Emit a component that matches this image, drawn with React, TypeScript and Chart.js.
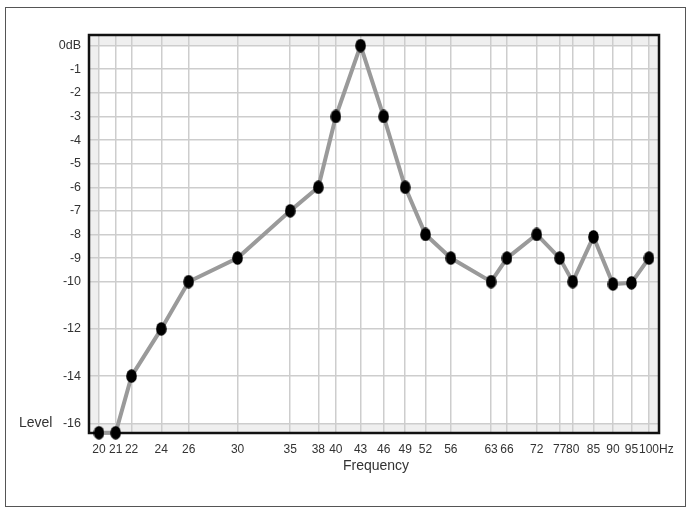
import React, { useEffect, useRef } from "react";
import { Chart, registerables } from "chart.js";

Chart.register(...registerables);

const frequencies = [20, 21, 22, 24, 26, 30, 35, 38, 40, 43, 46, 49, 52, 56, 63, 66, 72, 77, 80, 85, 90, 95, 100];
const levels = [-16.4, -16.4, -14, -12, -10, -9, -7, -6, -3, 0, -3, -6, -8, -9, -10, -9, -8, -9, -10, -8.1, -10.1, -10.05, -9];
const xTickValues = [20, 21, 22, 24, 26, 30, 35, 38, 40, 43, 46, 49, 52, 56, 63, 66, 72, 77, 80, 85, 90, 95, 100];
const yTickValues = [0, -1, -2, -3, -4, -5, -6, -7, -8, -9, -10, -12, -14, -16];
const xAxisTitle = "Frequency";
const yAxisTitle = "Level";
const xUnit = "Hz";

const FONT = "'Liberation Sans', Arial, sans-serif";

function makeDot(): HTMLCanvasElement {
  const c = document.createElement("canvas");
  c.width = 11;
  c.height = 14;
  const g = c.getContext("2d")!;
  g.fillStyle = "#000";
  g.beginPath();
  g.ellipse(5.5, 7, 5.3, 6.8, 0, 0, Math.PI * 2);
  g.fill();
  return c;
}

const decor = {
  id: "decor",
  beforeDraw(chart: any) {
    const { ctx, chartArea: a, scales } = chart;
    const x = scales.x, y = scales.y;
    ctx.save();
    ctx.fillStyle = "#fff";
    ctx.fillRect(0, 0, chart.width, chart.height);
    ctx.fillStyle = "#efefef";
    ctx.fillRect(a.left, a.top, a.right - a.left, a.bottom - a.top);
    const x0 = x.getPixelForValue(20), x1 = x.getPixelForValue(100);
    const y0 = y.getPixelForValue(0), y1 = y.getPixelForValue(-16);
    ctx.fillStyle = "#fff";
    ctx.fillRect(x0, y0, x1 - x0, y1 - y0);
    ctx.strokeStyle = "#555";
    ctx.lineWidth = 1;
    ctx.strokeRect(5.5, 7.5, 680, 499);
    ctx.restore();
  },
  beforeDatasetsDraw(chart: any) {
    const { ctx, chartArea: a, scales } = chart;
    ctx.save();
    ctx.strokeStyle = "#111";
    ctx.lineWidth = 2.5;
    ctx.strokeRect(a.left, a.top, a.right - a.left, a.bottom - a.top);
    ctx.fillStyle = "#333";
    ctx.font = `14px ${FONT}`;
    ctx.textAlign = "left";
    ctx.textBaseline = "middle";
    ctx.fillText(yAxisTitle, 19, scales.y.getPixelForValue(-16));
    ctx.textAlign = "center";
    ctx.fillText(xAxisTitle, 376, 466);
    // unit after the last x tick label
    ctx.font = `12px ${FONT}`;
    const lastX = scales.x.getPixelForValue(100);
    const w = ctx.measureText("100").width;
    ctx.textAlign = "left";
    ctx.fillText(xUnit, lastX + w / 2, a.bottom + 9 + 7.2);
    ctx.restore();
  },
};

export default function App() {
  const ref = useRef<HTMLCanvasElement | null>(null);
  useEffect(() => {
    if (!ref.current) return;
    const dot = makeDot();
    const chart = new Chart(ref.current, {
      type: "line",
      data: {
        datasets: [
          {
            data: frequencies.map((f, i) => ({ x: f, y: levels[i] })),
            borderColor: "#9a9a9a",
            borderWidth: 4,
            pointStyle: dot as any,
            pointRadius: 6,
            pointHoverRadius: 6,
            tension: 0,
            clip: false as any,
          },
        ],
      },
      options: {
        animation: false,
        responsive: false,
        events: [],
        layout: { padding: { top: 35, right: 28, left: 0, bottom: 0 } },
        plugins: { legend: { display: false }, tooltip: { enabled: false } },
        scales: {
          x: {
            type: "logarithmic",
            min: 19.424,
            max: 102.97,
            afterBuildTicks: (s: any) => {
              s.ticks = xTickValues.map((v) => ({ value: v }));
            },
            afterFit: (s: any) => {
              s.height = 76;
            },
            grid: { color: "#cdcdcd", lineWidth: 1.5, drawTicks: false },
            border: { display: false },
            ticks: {
              autoSkip: false,
              maxRotation: 0,
              padding: 9,
              color: "#333",
              font: { family: FONT, size: 12 },
              callback: (v: any) => String(v),
            },
          },
          y: {
            type: "linear",
            min: -16.41,
            max: 0.45,
            afterBuildTicks: (s: any) => {
              s.ticks = yTickValues.map((v) => ({ value: v }));
            },
            afterFit: (s: any) => {
              s.width = 89;
            },
            grid: { color: "#cdcdcd", lineWidth: 1.5, drawTicks: false },
            border: { display: false },
            ticks: {
              autoSkip: false,
              padding: 8,
              color: "#333",
              font: { family: FONT, size: 12.5 },
              callback: (v: any) => (Number(v) === 0 ? "0dB" : String(v)),
            },
          },
        },
      },
      plugins: [decor],
    });
    return () => chart.destroy();
  }, []);
  return (
    <div style={{ position: "fixed", left: 0, top: 0, width: 687, height: 509, background: "#fff" }}>
      <canvas ref={ref} width={687} height={509} style={{ display: "block" }} />
    </div>
  );
}
